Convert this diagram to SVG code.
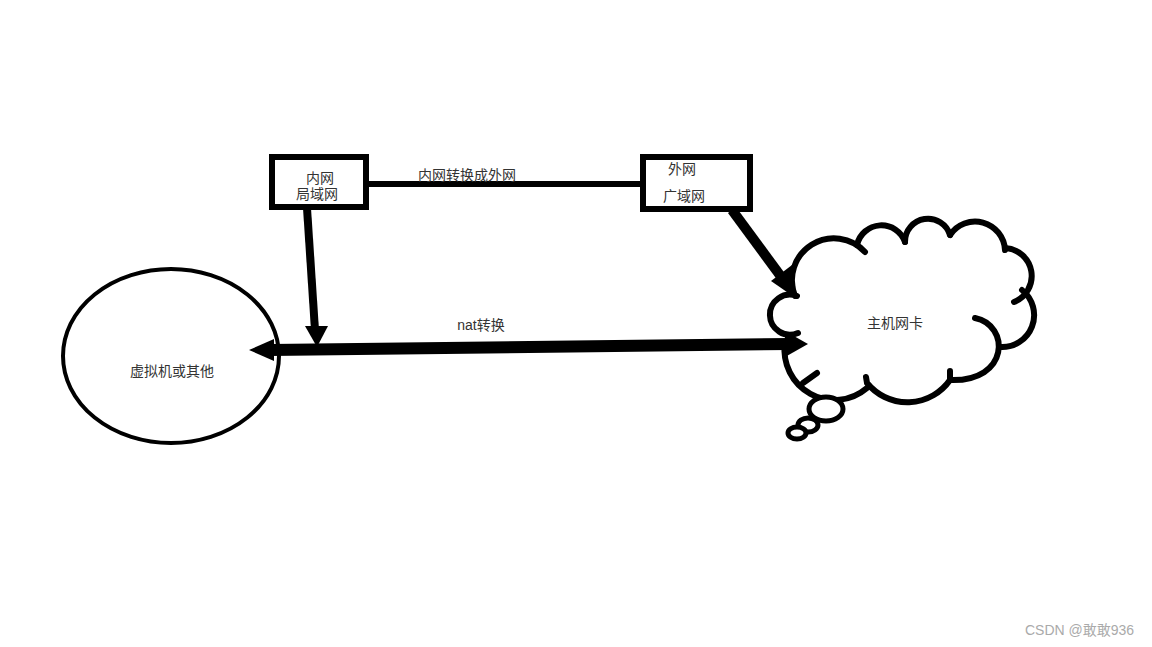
<svg xmlns="http://www.w3.org/2000/svg" width="1152" height="647" viewBox="0 0 1152 647">
<style>
.lbl{font-family:"Liberation Sans","Noto Sans CJK SC",sans-serif;font-size:14px;fill:#333}
.box{fill:#fff;stroke:#000;stroke-width:6}
.cl{fill:none;stroke:#000;stroke-width:6;stroke-linecap:round}
.wm{font-family:"Liberation Sans","Noto Sans CJK SC",sans-serif;font-size:14px;fill:#aaa}
</style>
<rect width="1152" height="647" fill="#fff"/>
<g id="connectors">
<line x1="366" y1="184" x2="643" y2="184" stroke="#000" stroke-width="6"/>
<line x1="307" y1="208" x2="315" y2="330" stroke="#000" stroke-width="8"/>
<polygon points="305,326 328,326 317,347"/>
<line x1="270" y1="350" x2="790" y2="344" stroke="#000" stroke-width="12"/>
<polygon points="249,350 274,339 274,361"/>
<polygon points="808,344 785,331 785,357"/>
<line x1="732" y1="210" x2="785" y2="282" stroke="#000" stroke-width="10"/>
<polygon points="771,281 792,265 797,299"/>
</g>
<g id="box-inner">
<rect class="box" x="272" y="157" width="94" height="50"/>
<text class="lbl" x="320" y="183" text-anchor="middle">内网</text>
<text class="lbl" x="317" y="199" text-anchor="middle">局域网</text>
</g>
<text class="lbl" x="467" y="180" text-anchor="middle">内网转换成外网</text>
<g id="box-outer">
<rect class="box" x="643" y="157" width="107" height="52"/>
<text class="lbl" x="682" y="174" text-anchor="middle">外网</text>
<text class="lbl" x="684" y="201" text-anchor="middle">广域网</text>
</g>
<text class="lbl" x="481" y="330" text-anchor="middle">nat转换</text>
<g id="vm">
<ellipse cx="171" cy="356" rx="108" ry="87" fill="none" stroke="#000" stroke-width="4"/>
<text class="lbl" x="172" y="376" text-anchor="middle">虚拟机或其他</text>
</g>
<g id="cloud">
<path class="cl" d="M798,333 A20,20 0 1 1 797,296"/>
<path class="cl" d="M795,296 A42,42 0 0 1 865,252"/>
<path class="cl" d="M857,245 A25,25 0 0 1 905,242"/>
<path class="cl" d="M905,242 A23,23 0 0 1 950,235"/>
<path class="cl" d="M950,235 A30,30 0 0 1 1005,250"/>
<path class="cl" d="M1005,248 A28,28 0 0 1 1014,302"/>
<path class="cl" d="M1022,290 A32,32 0 0 1 1000,347"/>
<path class="cl" d="M975,318 C1010,325 1010,382 950,380 L950,371"/>
<path class="cl" d="M950,380 A52,52 0 0 1 867,383 L866,377"/>
<path class="cl" d="M867,388 A50,50 0 0 1 785,343"/>
<path class="cl" d="M803,383 L817,373"/>
<ellipse cx="826" cy="409" rx="17" ry="12" fill="#fff" stroke="#000" stroke-width="5"/>
<ellipse cx="808" cy="425" rx="10" ry="7" fill="#fff" stroke="#000" stroke-width="5"/>
<ellipse cx="797" cy="433" rx="9" ry="6" fill="#fff" stroke="#000" stroke-width="5"/>
<text class="lbl" x="895" y="328" text-anchor="middle">主机网卡</text>
</g>
<text class="wm" x="1025" y="635">CSDN @敢敢936</text>
</svg>
